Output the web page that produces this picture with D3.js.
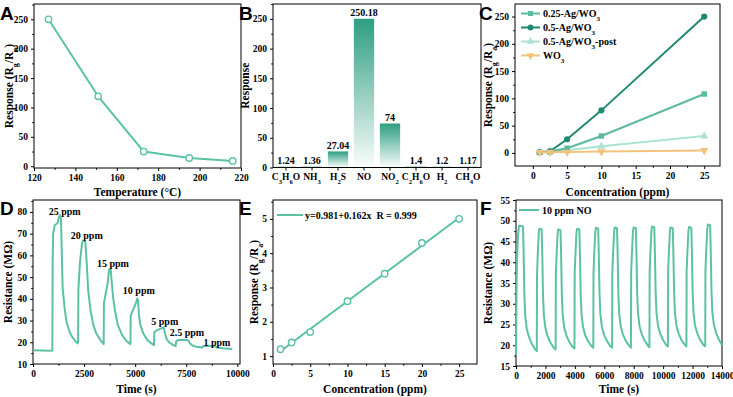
<!DOCTYPE html>
<html>
<head>
<meta charset="utf-8">
<script src="https://cdn.jsdelivr.net/npm/d3@7"></script>
<style>
  body { margin: 0; background: #fff; }
  .ax path.domain { display: none; }
  .ax line { stroke: #000; stroke-width: 1; }
  .ax text { font-family: "Liberation Serif", serif; font-weight: bold; font-size: 9.5px; fill: #000; }
  .title { font-family: "Liberation Serif", serif; font-weight: bold; font-size: 11.5px; fill: #000; }
  .lbl { font-family: "Liberation Serif", serif; font-weight: bold; font-size: 10px; fill: #000; }
  .letter { font-family: "Liberation Sans", Arial, sans-serif; font-weight: bold; font-size: 19px; fill: #000; }
</style>
</head>
<body>
<script>
// ---- data ----
var tempX    = [127, 151, 173, 195, 216],
    tempResp = [250, 119, 25, 14, 9]

var gases     = ["C{3}H{6}O", "NH{3}", "H{2}S", "NO", "NO{2}", "C{2}H{6}O", "H{2}", "CH{4}O"],
    gasResp   = [1.24, 1.36, 27.04, 250.18, 74, 1.4, 1.2, 1.17],
    gasLabels = ["1.24", "1.36", "27.04", "250.18", "74", "1.4", "1.2", "1.17"]

var concC      = [1, 2.5, 5, 10, 25],
    resp025    = [1.1, 2.4, 8.5, 31, 108],
    resp05     = [1.2, 2.8, 25, 78, 250],
    resp05post = [1.0, 1.8, 5, 12, 31],
    respWO3    = [1.0, 1.2, 1.6, 2.4, 4.5],
    namesC     = ["0.25-Ag/WO{3}", "0.5-Ag/WO{3}", "0.5-Ag/WO{3}-post", "WO{3}"]

var dynRes = [
  [0,16.3],[400,16.2],[900,16.1],[949,16.3],[960,55],[985,70],[1064,74],[1200,74.8],[1250,77],[1310,78.5],
  [1370,77],[1400,65],[1450,45],[1554,35],[1650,29],[1800,24.5],[1950,22],[2125,20],[2190,19.5],[2206,19.8],
  [2220,44],[2300,57],[2400,65.5],[2440,66.8],[2560,66.3],[2620,58],[2700,44],[2812,35],[2950,28],[3100,24],
  [3300,21],[3431,19.5],[3460,19.2],[3470,38],[3530,41],[3650,47],[3725,53.5],[3800,53.7],[3850,48],[3930,40],
  [4005,35],[4150,28],[4350,23.5],[4550,20.8],[4740,19.3],[4770,19.2],[4780,32],[4850,34],[4950,36],[5050,38.5],
  [5100,40.2],[5140,39.5],[5180,33],[5250,28],[5400,24],[5600,21],[5800,19.5],[5920,18.7],[5935,24.5],[6050,25.5],
  [6300,26.5],[6400,26.8],[6440,25],[6520,22],[6650,20],[6850,18.8],[6980,18.2],[7000,20.3],[7100,21],[7400,21.2],
  [7600,20.8],[7680,19.5],[7800,18.5],[8000,17.9],[8250,17.6],[8300,17.6],[8320,18.2],[8500,18.4],[8900,18.3],[9000,17.6],
  [9300,17.2],[9750,16.9]
]
var ppmLabels = ["25 ppm", "20 ppm", "15 ppm", "10 ppm", "5 ppm", "2.5 ppm", "1 ppm"],
    ppmLabelT = [1550, 2630, 3910, 5180, 6450, 7530, 9000],
    ppmLabelR = [78.4, 67.7, 54.7, 42.2, 27.8, 22.7, 18.5]

var concE = [1, 2.5, 5, 10, 15, 20, 25],
    respE = [1.2, 1.4, 1.7, 2.6, 3.4, 4.3, 5.0],
    fitA = 0.981, fitB = 0.162,
    fitX = [1, 25]

var cycleRes = [
  [0,17.6],[30,30],[60,40],[130,46],[200,48.8],[480,48.6],[520,42],[570,32],[630,27],[730,24],[880,22],[1080,20.3],[1300,19],[1414,18.6],
  [1428,37],[1480,42],[1550,47.2],[1590,48.1],[1745,47.9],[1785,42],[1835,32],[1895,27.2],[1995,24.2],[2145,22.2],[2345,20.6],[2565,19.4],[2694,19.0],
  [2708,37],[2760,42],[2830,47],[2870,47.9],[3025,47.7],[3065,42],[3115,32.2],[3175,27.3],[3275,24.3],[3425,22.3],[3625,20.8],[3845,19.6],[3974,19.2],
  [3988,37.5],[4040,42],[4110,47.2],[4150,48.1],[4305,47.9],[4345,42.2],[4395,32.4],[4455,27.4],[4555,24.4],[4705,22.4],[4905,20.9],[5125,19.8],[5253,19.4],
  [5267,37.5],[5320,42.2],[5390,47.4],[5430,48.3],[5585,48.1],[5625,42.3],[5675,32.5],[5735,27.5],[5835,24.5],[5985,22.5],[6185,21],[6405,19.8],[6532,19.4],
  [6546,37.6],[6600,42.3],[6670,47.5],[6710,48.4],[6865,48.2],[6905,42.4],[6955,32.6],[7015,27.6],[7115,24.6],[7265,22.6],[7465,21],[7685,19.9],[7812,19.4],
  [7826,37.6],[7880,42.3],[7950,47.5],[7990,48.4],[8145,48.2],[8185,42.4],[8235,32.6],[8295,27.6],[8395,24.6],[8545,22.7],[8745,21.1],[8965,19.9],[9069,19.5],
  [9083,37.8],[9135,42.5],[9205,47.6],[9245,48.6],[9400,48.4],[9440,42.5],[9490,32.8],[9550,27.7],[9650,24.7],[9800,22.8],[10000,21.2],[10220,20],[10325,19.7],
  [10339,37.7],[10390,42.4],[10460,47.5],[10500,48.4],[10655,48.2],[10695,42.4],[10745,32.7],[10805,27.7],[10905,24.7],[11055,22.8],[11255,21.2],[11475,20.1],[11582,19.7],
  [11596,37.8],[11650,42.5],[11720,47.6],[11760,48.5],[11915,48.3],[11955,42.5],[12005,32.8],[12065,27.8],[12165,24.8],[12315,22.9],[12515,21.3],[12735,20.1],[12861,19.8],
  [12875,38],[12930,43],[13000,48],[13040,49.1],[13195,48.9],[13235,42.8],[13285,33],[13345,28],[13445,25],[13595,23],[13795,21.3],[14000,20.0]
]

// ---- colours ----
var teal = "#5cc2a5",
    colC = ["#5db9a0", "#1f8a72", "#aee3d4", "#f1c47c"]

var svg = d3.select("body").append("svg")
  .attr("width", 733).attr("height", 397)
  .style("background", "#fff")

var defs = svg.append("defs")
var grad = defs.append("linearGradient").attr("id", "barGrad")
  .attr("x1", 0).attr("y1", 0).attr("x2", 0).attr("y2", 1)
grad.append("stop").attr("offset", "0%").attr("stop-color", "#2d9e81").attr("stop-opacity", 1)
grad.append("stop").attr("offset", "100%").attr("stop-color", "#2d9e81").attr("stop-opacity", 0.02)

function rich(sel, s) { //{{{
  s.split(/(\{[^}]*\})/).filter(t => t).forEach(t => {
    if(t[0] == "{")
      sel.append("tspan").attr("baseline-shift", "sub").attr("font-size", "70%").text(t.slice(1, -1))
    else
      sel.append("tspan").text(t)
  })
} //}}}

function panel(o) { //{{{
  var g = svg.append("g")
  var x = o.x, y = o.y
  var x0 = x.range()[0], x1 = x.range()[1], y0 = y.range()[1], y1 = y.range()[0]

  if(o.xMinor)
    g.append("g").attr("class", "ax").attr("transform", "translate(0," + y1 + ")")
      .call(d3.axisBottom(x).tickValues(o.xMinor).tickSize(1.8).tickFormat(""))
  if(o.xMajor)
    g.append("g").attr("class", "ax").attr("transform", "translate(0," + y1 + ")")
      .call(d3.axisBottom(x).tickValues(o.xMajor).tickSize(3).tickPadding(3).tickFormat(o.xFmt || d3.format("d")))
  g.append("g").attr("class", "ax").attr("transform", "translate(" + x0 + ",0)")
    .call(d3.axisLeft(y).tickValues(o.yMinor).tickSize(1.8).tickFormat(""))
  g.append("g").attr("class", "ax").attr("transform", "translate(" + x0 + ",0)")
    .call(d3.axisLeft(y).tickValues(o.yMajor).tickSize(3).tickPadding(3).tickFormat(o.yFmt || d3.format("d")))

  g.append("rect")
    .attr("x", x0).attr("y", y0).attr("width", x1 - x0).attr("height", y1 - y0)
    .attr("fill", "none").attr("stroke", "#000").attr("stroke-width", 1)

  g.append("text").attr("class", "title")
    .attr("x", (x0 + x1) / 2).attr("y", o.xTitleY).attr("text-anchor", "middle")
    .call(t => rich(t, o.xTitle))
  g.append("text").attr("class", "title")
    .attr("transform", "translate(" + o.yTitleX + "," + (y0 + y1) / 2 + ") rotate(-90)")
    .attr("text-anchor", "middle").attr("dy", "0.35em")
    .call(t => rich(t, o.yTitle))

  svg.append("text").attr("class", "letter")
    .attr("x", o.letterPos[0]).attr("y", o.letterPos[1]).text(o.letter)

  var plot = g.append("g")
  return plot
} //}}}

function openCircles(g, xs, ys, x, y, col) {
  g.selectAll(null).data(xs).enter().append("circle")
    .attr("cx", d => x(d)).attr("cy", (d, i) => y(ys[i])).attr("r", 3.2)
    .attr("fill", "#fff").attr("stroke", col).attr("stroke-width", 1.4)
}

// ---- A: response vs temperature ----
var xA = d3.scaleLinear().domain([120, 220]).range([34, 241]),
    yA = d3.scaleLinear().domain([-3, 276]).range([168, 4])
var gA = panel({ x: xA, y: yA, letter: "A", letterPos: [0, 20],
  xMajor: d3.range(120, 221, 20), xMinor: d3.range(130, 220, 20),
  yMajor: d3.range(0, 251, 50), yMinor: d3.range(25, 276, 50),
  xTitle: "Temperature (°C)", xTitleY: 196, yTitle: "Response (R{g}/R{a})", yTitleX: 9 })
gA.append("path").datum(tempX)
  .attr("fill", "none").attr("stroke", teal).attr("stroke-width", 2).attr("stroke-linejoin", "round")
  .attr("d", d3.line().x(d => xA(d)).y((d, i) => yA(tempResp[i])))
openCircles(gA, tempX, tempResp, xA, yA, teal)

// ---- B: selectivity bars ----
var xB = d3.scaleBand().domain(gases).range([273, 481]).paddingInner(0.22).paddingOuter(0.11),
    yB = d3.scaleLinear().domain([0, 275]).range([167.5, 4])
var gB = panel({ x: d3.scaleLinear().range([273, 481]), y: yB, letter: "B", letterPos: [239, 20],
  yMajor: d3.range(0, 251, 50), yMinor: d3.range(25, 276, 50),
  xTitle: "", xTitleY: 196, yTitle: "Response", yTitleX: 245 })
var axB = gB.append("g").attr("class", "ax").attr("transform", "translate(0,167.5)")
  .call(d3.axisBottom(xB).tickSize(3).tickPadding(3))
axB.selectAll("text").each(function(d) { var t = d3.select(this); t.text(""); rich(t, d) })
gB.selectAll(null).data(gases).enter().append("rect")
  .attr("x", d => xB(d)).attr("width", xB.bandwidth())
  .attr("y", (d, i) => yB(gasResp[i])).attr("height", (d, i) => yB(0) - yB(gasResp[i]))
  .attr("fill", "url(#barGrad)")
gB.selectAll(null).data(gases).enter().append("text").attr("class", "lbl")
  .attr("x", d => xB(d) + xB.bandwidth() / 2).attr("y", (d, i) => yB(gasResp[i]) - 2.5)
  .attr("text-anchor", "middle").text((d, i) => gasLabels[i])

// ---- C: response vs concentration ----
var xC = d3.scaleLinear().domain([-2.6, 27.3]).range([515, 720]),
    yC = d3.scaleLinear().domain([-24, 273]).range([166, 4])
var gC = panel({ x: xC, y: yC, letter: "C", letterPos: [479, 20],
  xMajor: d3.range(0, 26, 5), xMinor: d3.range(2.5, 26, 5),
  yMajor: d3.range(0, 251, 50), yMinor: d3.range(25, 251, 50),
  xTitle: "Concentration (ppm)", xTitleY: 196, yTitle: "Response (R{g}/R{a})", yTitleX: 488 })
var seriesC = [resp025, resp05, resp05post, respWO3],
    symC = [d3.symbolSquare, d3.symbolCircle, d3.symbolTriangle, d3.symbolTriangle],
    rotC = [0, 0, 0, 180]
;[2, 0, 1, 3].forEach(k => {
  gC.append("path").datum(concC)
    .attr("fill", "none").attr("stroke", colC[k]).attr("stroke-width", 2)
    .attr("d", d3.line().x(d => xC(d)).y((d, i) => yC(seriesC[k][i])))
  gC.selectAll(null).data(concC).enter().append("path")
    .attr("transform", (d, i) => "translate(" + xC(d) + "," + yC(seriesC[k][i]) + ") rotate(" + rotC[k] + ")")
    .attr("d", d3.symbol().type(symC[k]).size(30)).attr("fill", colC[k])
})
namesC.forEach((n, k) => {
  var ly = 13.5 + k * 14
  gC.append("line").attr("x1", 521).attr("x2", 540).attr("y1", ly).attr("y2", ly)
    .attr("stroke", colC[k]).attr("stroke-width", 2)
  gC.append("path").attr("transform", "translate(530.5," + ly + ") rotate(" + rotC[k] + ")")
    .attr("d", d3.symbol().type(symC[k]).size(26)).attr("fill", colC[k])
  gC.append("text").attr("class", "lbl").attr("x", 543).attr("y", ly + 3.5).call(t => rich(t, n))
})

// ---- D: dynamic response ----
var xD = d3.scaleLinear().domain([0, 10130]).range([33, 240]),
    yD = d3.scaleLinear().domain([10, 85.5]).range([364, 200])
var gD = panel({ x: xD, y: yD, letter: "D", letterPos: [0, 215],
  xMajor: d3.range(0, 10001, 2500), xMinor: d3.range(1250, 10001, 2500),
  yMajor: d3.range(10, 81, 10), yMinor: d3.range(15, 86, 10),
  xTitle: "Time (s)", xTitleY: 393, yTitle: "Resistance (MΩ)", yTitleX: 8 })
gD.append("path").datum(dynRes)
  .attr("fill", "none").attr("stroke", teal).attr("stroke-width", 2).attr("stroke-linejoin", "round")
  .attr("d", d3.line().x(d => xD(d[0])).y(d => yD(d[1])))
gD.selectAll(null).data(ppmLabels).enter().append("text").attr("class", "lbl")
  .attr("x", (d, i) => xD(ppmLabelT[i])).attr("y", (d, i) => yD(ppmLabelR[i]))
  .attr("text-anchor", "middle").text(d => d)

// ---- E: linear fit ----
var xE = d3.scaleLinear().domain([0, 27.4]).range([273, 477]),
    yE = d3.scaleLinear().domain([0.77, 5.55]).range([364, 200])
var gE = panel({ x: xE, y: yE, letter: "E", letterPos: [239, 215],
  xMajor: d3.range(0, 26, 5), xMinor: d3.range(2.5, 26, 5),
  yMajor: d3.range(1, 6, 1), yMinor: d3.range(1.5, 5.6, 1),
  xTitle: "Concentration (ppm)", xTitleY: 393, yTitle: "Response (R{g}/R{a})", yTitleX: 254 })
gE.append("path").datum(fitX)
  .attr("fill", "none").attr("stroke", teal).attr("stroke-width", 2)
  .attr("d", d3.line().x(d => xE(d)).y(d => yE(fitA + fitB * d)))
openCircles(gE, concE, respE, xE, yE, teal)
gE.append("line").attr("x1", 277).attr("x2", 303).attr("y1", 215).attr("y2", 215)
  .attr("stroke", teal).attr("stroke-width", 2)
gE.append("text").attr("class", "lbl").attr("x", 305).attr("y", 218.5)
  .attr("xml:space", "preserve").text("y=0.981+0.162x  R = 0.999")

// ---- F: cycling ----
var xF = d3.scaleLinear().domain([0, 14000]).range([516, 722]),
    yF = d3.scaleLinear().domain([15, 55]).range([366, 200])
var gF = panel({ x: xF, y: yF, letter: "F", letterPos: [480, 215],
  xMajor: d3.range(0, 14001, 2000), xMinor: d3.range(1000, 14001, 2000),
  yMajor: d3.range(15, 56, 5), yMinor: d3.range(17.5, 55, 5),
  xTitle: "Time (s)", xTitleY: 393, yTitle: "Resistance (MΩ)", yTitleX: 488 })
gF.append("path").datum(cycleRes)
  .attr("fill", "none").attr("stroke", teal).attr("stroke-width", 2).attr("stroke-linejoin", "round")
  .attr("d", d3.line().x(d => xF(d[0])).y(d => yF(d[1])))
gF.append("line").attr("x1", 519).attr("x2", 539).attr("y1", 210).attr("y2", 210)
  .attr("stroke", teal).attr("stroke-width", 2)
gF.append("text").attr("class", "lbl").attr("x", 542).attr("y", 213.5).text("10 ppm NO")
</script>
</body>
</html>
